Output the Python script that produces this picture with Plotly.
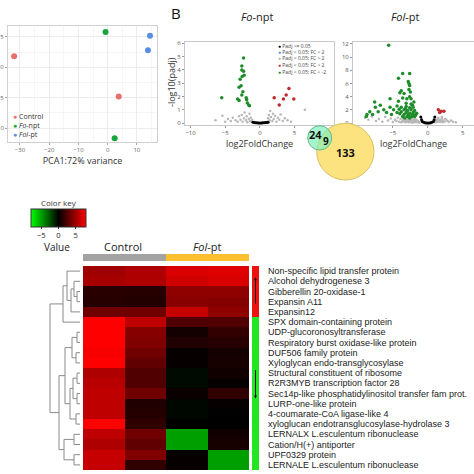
import plotly.graph_objects as go

W = H = 474
def px(x): return x / W
def py(y): return 1 - y / H

# ---------------- PCA data ----------------
pca_groups = ["Control", "Fo-npt", "Fol-pt"]
pca_labels_html = ["Control", "<i>Fo</i>-npt", "<i>Fol</i>-pt"]
pca_colors = ["#e8706b", "#18a53c", "#5b8de0"]
pca_x = {"Control": [-32.0, 3.8], "Fo-npt": [-0.7, 2.4], "Fol-pt": [14.5, 13.8]}
pca_y = {"Control": [1.8, -4.8], "Fo-npt": [5.8, -11.7], "Fol-pt": [5.2, 2.8]}

# ---------------- Volcano Fo-npt ----------------
fo_green_x = [-5.5, -2.35, -2.6, -2.6, -2.35, -2.26, -2.55, -2.85, -2.7, -3.0, -2.45, -3.2, -3.0, -2.6, -1.97, -1.9, -1.8, -1.6, -1.5]
fo_green_y = [1.9, 4.9, 4.3, 4.0, 3.9, 3.6, 3.5, 3.3, 2.8, 2.7, 2.35, 1.8, 1.7, 2.1, 1.9, 1.75, 1.5, 1.35, 1.3]
fo_red_x = [2.07, 2.8, 3.4, 3.8, 4.2, 4.9]
fo_red_y = [1.9, 1.35, 1.8, 2.1, 2.6, 1.8]
fo_gray_x = [-6.4, -5.4, -5.0, -4.6, -4.2, -3.9, -3.5, -3.2, -3.0, -2.8, -2.6, -2.5, -2.3, -2.2, -2.0, -1.9, -1.8, -1.6, -1.5, -1.4, -1.3, -1.2, -1.1,
             1.1, 1.2, 1.3, 1.4, 1.5, 1.6, 1.8, 1.9, 2.0, 2.2, 2.4, 2.6, 2.8, 3.0, 3.3, 3.6, 4.0, 4.5, 6.5]
fo_gray_y = [0.2, 0.55, 0.1, 0.3, 0.15, 0.4, 0.2, 0.1, 0.5, 0.25, 0.6, 0.1, 0.35, 0.8, 0.2, 0.5, 0.05, 0.3, 0.7, 0.15, 0.4, 0.1, 0.25,
             0.1, 0.35, 0.6, 0.2, 0.9, 0.45, 0.15, 0.7, 0.3, 0.55, 0.1, 0.4, 0.25, 0.65, 0.15, 0.35, 0.2, 0.1, 1.0]
fo_black_x = [-1.0, -0.8, -0.6, -0.4, -0.2, 0.0, 0.2, 0.4, 0.6, 0.8, 1.0, 1.2]
fo_black_y = [0.05, 0.03, 0.02, 0.02, 0.01, 0.01, 0.01, 0.02, 0.02, 0.03, 0.04, 0.05]

# ---------------- Volcano Fol-pt ----------------
fol_green_x = [-5.6, -3.6, -2.6, -4.2, -2.8, -2.7, -2.6, -3.8, -4.0, -2.7, -3.4, -2.5, -2.6, -3.6, -5.4, -3.0, -2.4, -7.6, -4.2, -3.1,
               -2.4, -6.8, -4.4, -7.5, -5.4, -3.8, -3.1, -2.6, -2.1, -6.3, -4.9, -4.1, -3.4, -2.9, -2.4, -1.9, -8.3, -7.1, -5.9, -4.4,
               -3.8, -3.1, -2.6, -2.1, -1.6, -8.7, -7.9, -5.2, -4.0, -3.4, -2.8, -2.2, -1.7, -8.8, -3.6, -2.95, -2.3, -1.9, -3.3, -2.6,
               -2.2, -2.0, -3.2, -2.7, -1.8]
fol_green_y = [11.8, 7.5, 7.5, 6.8, 6.3, 6.0, 5.7, 4.9, 4.6, 5.1, 4.5, 4.7, 4.0, 3.8, 3.7, 3.7, 3.7, 3.2, 3.3, 3.0,
               2.9, 2.7, 2.6, 2.4, 2.4, 2.4, 2.5, 2.3, 2.4, 2.0, 2.0, 2.1, 2.0, 1.9, 2.0, 1.9, 1.7, 1.7, 1.6, 1.6,
               1.7, 1.6, 1.5, 1.6, 1.5, 1.3, 1.3, 1.3, 1.4, 1.3, 1.3, 1.3, 1.3, 1.0, 1.0, 1.0, 1.0, 1.0, 0.75, 0.75,
               2.7, 3.2, 2.2, 1.1, 1.15]
fol_red_x = [1.5, 1.9, 2.3, 1.7]
fol_red_y = [2.0, 1.8, 1.8, 1.6]
fol_gray_x = [-9.0, -8.5, -8.0, -7.4, -7.0, -6.5, -6.1, -5.7, -5.3, -5.0, -4.7, -4.5, -4.3, -4.1, -3.9, -3.8, -3.6, -3.5, -3.4, -3.3,
              -3.2, -3.1, -3.0, -2.9, -2.8, -2.7, -2.6, -2.5, -2.4, -2.3, -2.2, -2.1, -2.0, -1.9, -1.8, -1.7, -1.6, -1.5, -1.4, -1.3,
              -1.2, -3.7, -3.0, -2.5, -2.0, -1.5, -3.3, -2.7, -2.2, -1.8,
              1.1, 1.2, 1.3, 1.4, 1.5, 1.6, 1.7, 1.8, 1.9, 2.0, 2.1, 2.2, 2.4, 2.6, 2.8, 3.0, 3.3, 3.6, 4.0, 1.5, 2.0, 2.5]
fol_gray_y = [0.8, 0.5, 1.0, 0.3, 0.6, 0.2, 0.9, 0.4, 0.7, 0.15, 0.5, 0.3, 0.8, 0.2, 0.6, 0.1, 0.4, 0.7, 0.25, 0.5,
              0.1, 0.35, 0.6, 0.2, 0.45, 0.1, 0.3, 0.55, 0.15, 0.4, 0.05, 0.25, 0.5, 0.1, 0.35, 0.2, 0.45, 0.1, 0.3, 0.15,
              0.05, 0.2, 0.15, 0.3, 0.4, 0.25, 0.65, 0.6, 0.7, 0.6,
              0.1, 0.3, 0.5, 0.2, 0.6, 0.35, 0.15, 0.45, 0.25, 0.7, 0.1, 0.4, 0.2, 0.55, 0.3, 0.15, 0.4, 0.2, 0.1, 0.8, 0.9, 0.6]
fol_black_x = [-1.0, -0.9, -0.8, -0.6, -0.4, -0.2, 0.0, 0.2, 0.4, 0.6, 0.8, 0.9, 1.0]
fol_black_y = [0.9, 0.5, 0.25, 0.1, 0.04, 0.02, 0.01, 0.02, 0.04, 0.1, 0.25, 0.5, 0.9]

volcano_legend = ["Padj >= 0.05", "Padj < 0.05; FC < 2", "Padj > 0.05; FC > 2", "Padj < 0.05; FC > 2", "Padj < 0.05; FC < -2"]
volcano_legend_colors = ["#000000", "#3b8fe0", "#b0b0b0", "#c0282a", "#1e8c2a"]

# ---------------- Venn ----------------
venn_only_fo = 24
venn_shared = 9
venn_only_fol = 133

# ---------------- Heatmap ----------------
hm_columns = ["Control 1", "Control 2", "Fol-pt 1", "Fol-pt 2"]
genes = [
    "Non-specific lipid transfer protein",
    "Alcohol dehydrogenese 3",
    "Gibberellin 20-oxidase-1",
    "Expansin A11",
    "Expansin12",
    "SPX domain-containing protein",
    "UDP-glucoronosyltransferase",
    "Respiratory burst oxidase-like protein",
    "DUF506 family protein",
    "Xyloglycan endo-transglycosylase",
    "Structural constituent of ribosome",
    "R2R3MYB transcription factor 28",
    "Sec14p-like phosphatidylinositol transfer fam prot.",
    "LURP-one-like protein",
    "4-coumarate-CoA ligase-like 4",
    "xyloglucan endotransglucosylase-hydrolase 3",
    "LERNALX L.esculentum ribonuclease",
    "Cation/H(+) antiporter",
    "UPF0329 protein",
    "LERNALE L.esculentum ribonuclease",
]
hm_values = [
    [5.0, 5.5, 6.8, 7.0],
    [5.2, 5.5, 6.5, 6.8],
    [1.3, 1.2, 4.5, 4.5],
    [1.2, 1.1, 4.3, 4.2],
    [3.5, 3.5, 6.2, 4.5],
    [8.0, 6.0, 2.5, 2.5],
    [8.0, 4.2, 0.6, 1.6],
    [8.0, 4.0, 1.0, 1.2],
    [7.8, 3.5, 0.2, 0.6],
    [8.0, 3.0, 0.2, 0.7],
    [5.5, 2.5, -0.3, 0.5],
    [5.8, 2.5, -0.3, 0.2],
    [6.0, 3.5, 0.3, 1.5],
    [6.0, 1.0, -0.2, 0.2],
    [6.0, 1.2, -0.2, 0.0],
    [8.0, 1.5, 0.0, 0.0],
    [6.0, 3.5, -5.0, 0.5],
    [5.5, 3.0, -5.0, 0.7],
    [6.2, 4.0, 0.2, -5.0],
    [6.2, 1.5, 0.2, -5.0],
]
up_rows = 5  # first 5 genes up-regulated
# dendrogram merges: (child_a, child_b, height); ids >= 20 are earlier merges
dendro_merges = [
    (2, 3, 3), (1, 20, 6), (21, 4, 9), (0, 22, 13), (23, 5, 17),
    (6, 7, 3), (8, 9, 4), (25, 26, 8), (10, 11, 3), (12, 13, 3), (28, 29, 7), (14, 15, 4), (30, 31, 10), (27, 32, 15),
    (16, 17, 6), (18, 19, 6), (34, 35, 16), (33, 36, 21), (24, 37, 30),
]

fig = go.Figure()

# ---------- PCA ----------
for g, c in zip(pca_groups, pca_colors):
    fig.add_trace(go.Scatter(x=pca_x[g], y=pca_y[g], mode="markers",
                             marker=dict(color=c, size=6), showlegend=False, xaxis="x", yaxis="y"))

# ---------- volcanoes ----------
def add_volcano(xa, ya, gx, gy, bx, by, grx, gry, rx, ry):
    fig.add_trace(go.Scatter(x=gx, y=gy, mode="markers", marker=dict(color="#b8b8b8", size=2.5),
                             showlegend=False, xaxis=xa, yaxis=ya))
    fig.add_trace(go.Scatter(x=bx, y=by, mode="markers", marker=dict(color="#000000", size=3),
                             showlegend=False, xaxis=xa, yaxis=ya))
    fig.add_trace(go.Scatter(x=grx, y=gry, mode="markers", marker=dict(color="#1e8c2a", size=3.5),
                             showlegend=False, xaxis=xa, yaxis=ya))
    fig.add_trace(go.Scatter(x=rx, y=ry, mode="markers", marker=dict(color="#c0282a", size=3.5),
                             showlegend=False, xaxis=xa, yaxis=ya))

add_volcano("x2", "y2", fo_gray_x, fo_gray_y, fo_black_x, fo_black_y, fo_green_x, fo_green_y, fo_red_x, fo_red_y)
add_volcano("x3", "y3", fol_gray_x, fol_gray_y, fol_black_x, fol_black_y, fol_green_x, fol_green_y, fol_red_x, fol_red_y)

# ---------- heatmap ----------
fig.add_trace(go.Heatmap(
    z=hm_values, x=list(range(len(hm_columns))), y=list(range(len(genes))),
    colorscale=[[0, "#00ff00"], [0.5, "#000000"], [1, "#ff0000"]], zmin=-8, zmax=8,
    xaxis="x4", yaxis="y4", xgap=0, ygap=0,
    colorbar=dict(orientation="h", x=px(58.5), xanchor="center", y=py(209), yanchor="top",
                  len=55, lenmode="pixels", thickness=18, thicknessmode="pixels",
                  tickvals=[-5, 0, 5], ticks="outside", ticklen=2, tickcolor="#333",
                  tickfont=dict(size=7.5, color="#222", family="Open Sans"),
                  outlinewidth=1, outlinecolor="#333", xpad=0, ypad=0),
))

# ---------- dendrogram ----------
pos = {i: float(i) for i in range(len(genes))}
hgt = {i: 0.0 for i in range(len(genes))}
dx, dy = [], []
for k, (a, b, h) in enumerate(dendro_merges):
    nid = len(genes) + k
    dx += [hgt[a], h, h, hgt[b], None]
    dy += [pos[a], pos[a], pos[b], pos[b], None]
    pos[nid] = (pos[a] + pos[b]) / 2
    hgt[nid] = h
fig.add_trace(go.Scatter(x=dx, y=dy, mode="lines", line=dict(color="#8a8a8a", width=1),
                         showlegend=False, xaxis="x5", yaxis="y5", hoverinfo="skip"))

ax_common = dict(showline=True, linecolor="#c8c8c8", mirror=True, ticks="outside", ticklen=2,
                 tickcolor="#999", tickfont=dict(size=6, color="#555", family="Open Sans"),
                 zeroline=False, showgrid=False, automargin=False)

annotations = []
shapes = []

layout = dict(
    width=W, height=H, margin=dict(l=0, r=0, t=0, b=0, autoexpand=False), paper_bgcolor="white", plot_bgcolor="white",
    showlegend=False,
    xaxis=dict(domain=[px(8), px(157)], range=[-34.1, 16.9], tickvals=[-30, -20, -10, 0, 10],
               showline=True, linecolor="#d0d0d0", mirror=True, ticks="outside", ticklen=2, tickcolor="#aaa",
               tickfont=dict(size=6, color="#666", family="Open Sans"), zeroline=False,
               showgrid=True, gridcolor="#ececec", gridwidth=1,
               minor=dict(showgrid=True, gridcolor="#f5f5f5", dtick=5),
               title=dict(text="PCA1:72% variance", font=dict(size=9, color="#333", family="Open Sans"), standoff=3),
               anchor="y", automargin=False),
    yaxis=dict(domain=[py(142), py(26)], range=[-12.3, 6.8], tickvals=[-10, -5, 0, 5],
               showline=True, linecolor="#d0d0d0", mirror=True, ticks="outside", ticklen=2, tickcolor="#aaa",
               tickfont=dict(size=6, color="#666", family="Open Sans"), zeroline=False,
               showgrid=True, gridcolor="#ececec", minor=dict(showgrid=True, gridcolor="#f5f5f5", dtick=2.5),
               anchor="x", automargin=False),
    xaxis2=dict(ax_common, domain=[px(185), px(334)], range=[-10.8, 10.7], tickvals=[-10, -5, 0, 5],
                title=dict(text="log2FoldChange", font=dict(size=9, color="#333", family="Open Sans"), standoff=2),
                anchor="y2"),
    yaxis2=dict(ax_common, domain=[py(125), py(42)], range=[-0.15, 6.1], tickvals=[0, 1, 2, 3, 4, 5, 6], anchor="x2"),
    xaxis3=dict(ax_common, domain=[px(353), 1.0], range=[-10.7, 6.6], tickvals=[-5, 0, 5],
                title=dict(text="log2FoldChange", font=dict(size=9, color="#333", family="Open Sans"), standoff=2),
                anchor="y3"),
    yaxis3=dict(ax_common, domain=[py(125), py(42)], range=[-0.3, 12.3], tickvals=[0, 2, 4, 6, 8, 10, 12], anchor="x3"),
    xaxis4=dict(domain=[px(83), px(249)], range=[-0.5, 3.5], showticklabels=False, showgrid=False,
                zeroline=False, ticks="", anchor="y4"),
    yaxis4=dict(domain=[py(470), py(266)], range=[19.5, -0.5], showticklabels=False, showgrid=False,
                zeroline=False, ticks="", anchor="x4"),
    xaxis5=dict(domain=[px(47), px(81)], range=[33, -1], visible=False, anchor="y5"),
    yaxis5=dict(domain=[py(470), py(266)], range=[19.5, -0.5], visible=False, anchor="x5"),
)

def note(x, y, text, size, color="#222", family="Open Sans", xanchor="center", **kw):
    d = dict(xref="paper", yref="paper", x=px(x), y=py(y), text=text, showarrow=False,
             xanchor=xanchor, yanchor="middle", font=dict(size=size, color=color, family=family))
    d.update(kw)
    return d

# PCA legend (text)
for i, (lab, c) in enumerate(zip(pca_labels_html, pca_colors)):
    annotations.append(note(11, 116 + 9 * i, f'<span style="color:{c}">\u25CF</span> {lab}', 7, "#333", xanchor="left"))

# Volcano legend
for i, (lab, c) in enumerate(zip(volcano_legend, volcano_legend_colors)):
    annotations.append(note(276, 45.5 + 6.5 * i, f'<span style="color:{c}">\u25CF</span> {lab}', 5, "#444", xanchor="left"))

# titles
annotations += [
    note(176, 13, "B", 15, "#111"),
    note(257, 16, "<i>Fo</i>-npt", 11),
    note(405, 16, "<i>Fol</i>-pt", 11),
    note(171, 82, "-log10(padj)", 9, "#333", textangle=-90),
    note(59, 202, "Color key", 8, "#333"),
    note(57, 247, "Value", 10),
    note(123, 247, "Control", 11),
    note(207, 247, "<i>Fol</i>-pt", 11),
]

# Venn circles
shapes += [
    dict(type="circle", xref="paper", yref="paper", x0=px(316.7), x1=px(374), y0=py(180), y1=py(123.3),
         fillcolor="rgba(253,226,120,0.95)", line=dict(color="#d8c060", width=1), layer="above"),
    dict(type="circle", xref="paper", yref="paper", x0=px(307.7), x1=px(331.7), y0=py(150), y1=py(125.7),
         fillcolor="rgba(130,238,185,0.7)", line=dict(color="#60b890", width=1), layer="above"),
]
annotations += [
    note(315.5, 134, f"<b>{venn_only_fo}</b>", 11, "#111"),
    note(325.5, 140.7, f"<b>{venn_shared}</b>", 10, "#111"),
    note(345.7, 152.3, f"<b>{venn_only_fol}</b>", 11, "#111"),
]

# column colour bars
shapes += [
    dict(type="rect", xref="x4", yref="paper", x0=-0.5, x1=1.5, y0=py(261), y1=py(254), fillcolor="#a3a3a3", line=dict(width=0)),
    dict(type="rect", xref="x4", yref="paper", x0=1.5, x1=3.5, y0=py(261), y1=py(254), fillcolor="#fbbf2f", line=dict(width=0)),
]
# side bar: up (red) / down (green)
shapes += [
    dict(type="rect", xref="paper", yref="y4", x0=px(252), x1=px(259), y0=-0.5, y1=up_rows - 0.5,
         fillcolor="#ee1111", line=dict(width=0)),
    dict(type="rect", xref="paper", yref="y4", x0=px(252), x1=px(259), y0=up_rows - 0.5, y1=len(genes) - 0.5,
         fillcolor="#22e622", line=dict(width=0)),
]
annotations += [
    dict(xref="paper", yref="y4", x=px(255.5), y=0.6, ax=0, ay=28, axref="pixel", ayref="pixel",
         showarrow=True, arrowhead=2, arrowsize=0.6, arrowwidth=1, arrowcolor="#111", text=""),
    dict(xref="paper", yref="y4", x=px(255.5), y=12.5, ax=0, ay=-30, axref="pixel", ayref="pixel",
         showarrow=True, arrowhead=2, arrowsize=0.6, arrowwidth=1, arrowcolor="#111", text=""),
]
# row labels
for i, g in enumerate(genes):
    annotations.append(dict(xref="paper", yref="y4", x=px(266), y=i, text=g, xanchor="left", yanchor="middle",
                            showarrow=False, font=dict(size=9, color="#222", family="Liberation Sans")))

layout["annotations"] = annotations
layout["shapes"] = shapes
fig.update_layout(**layout)
fig.write_html("out.html", config={"displayModeBar": False},
               post_script="document.body.style.margin='0';document.body.style.overflow='hidden';")
